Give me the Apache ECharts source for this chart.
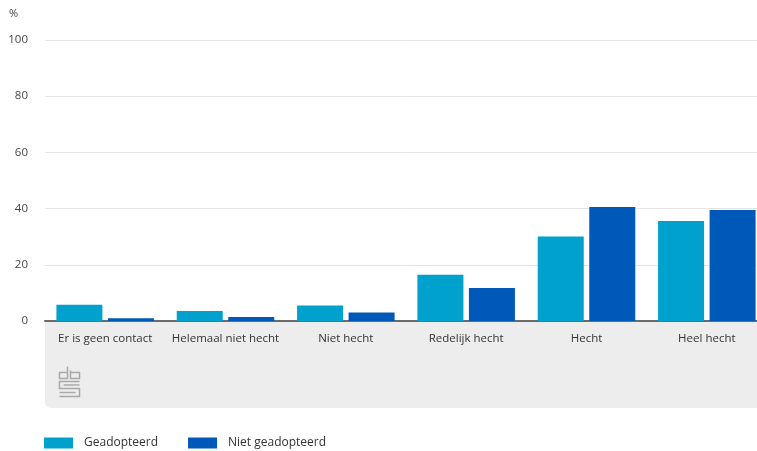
<!DOCTYPE html>
<html><head><meta charset="utf-8">
<script src="https://cdn.jsdelivr.net/npm/echarts@6/dist/echarts.min.js"></script>
<style>html,body{margin:0;padding:0;background:#fff}#c{width:757px;height:451px}</style>
</head><body><div id="c"></div>
<script>
const categories = ['Er is geen contact','Helemaal niet hecht','Niet hecht','Redelijk hecht','Hecht','Heel hecht'];
const geadopteerd = [5.8, 3.6, 5.5, 16.5, 30.1, 35.6];
const nietGeadopteerd = [1.0, 1.4, 3.0, 11.7, 40.6, 39.5];
const yTicks = [0, 20, 40, 60, 80, 100];
const seriesNames = ['Geadopteerd', 'Niet geadopteerd'];

const chart = echarts.init(document.getElementById('c'));
const font = 'Open Sans';
chart.setOption({
  animation: false,
  textStyle: {fontFamily: font},
  grid: {left: 45, width: 722, top: 40, bottom: 130, outerBoundsMode: 'none', containLabel: false},
  graphic: [
    {type: 'rect', z: -10, shape: {x: 45, y: 321, width: 730, height: 87, r: [0,0,0,6]}, style: {fill: '#ededed'}},
    {type: 'text', left: 9, top: 8, style: {text: '%', font: '11px "Open Sans"', fill: '#444'}},
    {type: 'group', left: 57, top: 364, children: [
      {type: 'polyline', shape: {points: [[8,0],[8,12],[0,12],[0,6],[8,6]]}, style: {stroke: '#a8a8a8', lineWidth: 1.5, fill: null}},
      {type: 'polyline', shape: {points: [[11,4],[11,12],[20,12],[20,6],[11,6]]}, style: {stroke: '#a8a8a8', lineWidth: 1.5, fill: null}},
      {type: 'polyline', shape: {points: [[20,15],[0,15],[0,22],[20,22],[20,30],[0,30]]}, style: {stroke: '#a8a8a8', lineWidth: 1.5, fill: null}},
      {type: 'polyline', shape: {points: [[4,18.5],[20,18.5]]}, style: {stroke: '#a8a8a8', lineWidth: 1.5, fill: null}},
      {type: 'polyline', shape: {points: [[0,26],[16,26]]}, style: {stroke: '#a8a8a8', lineWidth: 1.5, fill: null}}
    ]}
  ],
  legend: {
    left: 39, top: 432, itemWidth: 29, itemHeight: 11, itemGap: 30,
    icon: 'rect',
    textStyle: {fontFamily: font, fontSize: 12, color: '#333', padding: [0,0,0,6]},
    data: seriesNames
  },
  xAxis: {
    type: 'category', data: categories,
    axisLine: {lineStyle: {color: '#6b6b6b', width: 2}},
    axisTick: {show: false},
    axisLabel: {color: '#333', fontSize: 11.5, margin: 12, fontFamily: font, interval: 0}
  },
  yAxis: {
    type: 'value', min: 0, max: 100, interval: 20,
    axisLabel: {color: '#444', fontSize: 11.5, margin: 17, fontFamily: font,
      formatter: v => yTicks.includes(v) ? String(v) : ''},
    splitLine: {lineStyle: {color: '#e4e4e4', width: 1}},
    axisLine: {show: false}, axisTick: {show: false}
  },
  series: [
    {name: seriesNames[0], type: 'bar', data: geadopteerd, barWidth: 46, barGap: '12%', itemStyle: {color: '#00a1cd'}},
    {name: seriesNames[1], type: 'bar', data: nietGeadopteerd, barWidth: 46, itemStyle: {color: '#0058b8'}}
  ]
});
</script></body></html>
